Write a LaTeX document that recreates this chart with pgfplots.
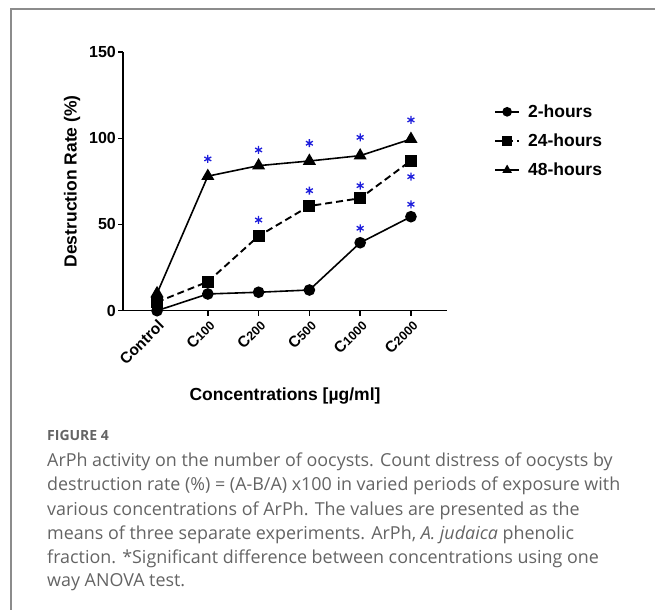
\documentclass[border=0pt]{standalone}
\usepackage{pgfplots}
\pgfplotsset{compat=1.18}
\usepackage{fontspec}
\setmainfont{Liberation Sans}
\newfontfamily\capfont{Open Sans}
\definecolor{starblue}{RGB}{30,30,220}
\definecolor{capgray}{RGB}{100,100,100}
\definecolor{framegray}{RGB}{140,140,140}
\newcommand{\sm}[1]{{\fontsize{12.5}{12.5}\selectfont #1}}
\begin{document}
\begin{tikzpicture}[x=1pt,y=1pt]
\useasboundingbox (0,0) rectangle (655,610);
\draw[framegray, line width=1.3pt] (655,601) -- (11,601) -- (11,0);
\begin{axis}[
  at={(123pt,299.3pt)}, anchor=south west,
  scale only axis, width=324pt, height=258.7pt,
  xmin=-0.67, xmax=5.71, ymin=0, ymax=150,
  axis lines*=left,
  axis line style={line width=1.4pt, -},
  tick align=outside, major tick length=5pt,
  tick style={line width=1.4pt, black},
  xtick={0,1,2,3,4,5},
  xticklabels={Control,{C\sm{100}},{C\sm{200}},{C\sm{500}},{C\sm{1000}},{C\sm{2000}}},
  ytick={0,50,100,150},
  /pgf/number format/assume math mode=true,
  yticklabel style={font=\fontsize{16}{16}\selectfont\bfseries, inner sep=2pt},
  xticklabel style={font=\fontsize{15.5}{15.5}\selectfont\bfseries, rotate=45, anchor=north east, inner sep=2pt},
  ylabel={Destruction Rate (\%)},
  ylabel style={at={(axis description cs:-0.157,0.5)}, anchor=center, font=\fontsize{17.5}{17.5}\selectfont\bfseries},
  xlabel={Concentrations [µg/ml]},
  xlabel style={at={(axis description cs:0.5,-0.33)}, anchor=center, font=\fontsize{17.5}{17.5}\selectfont\bfseries},
  clip=false,
  legend style={draw=none, fill=none, at={(axis description cs:1.145,0.656)}, anchor=west,
    font=\fontsize{17.5}{17.5}\selectfont\bfseries, row sep=11pt, inner sep=0pt,
    /tikz/every odd column/.append style={column sep=6pt}},
  legend image code/.code={\draw[mark repeat=2,mark phase=2,#1,mark size=4pt] plot coordinates {(0pt,0pt)(12pt,0pt)(24pt,0pt)};},
  legend cell align=left,
]
\addplot[black, line width=1.6pt, mark=*, mark size=5pt, mark options={solid}] coordinates {
 (0,0) (1,9.7) (2,10.7) (3,12) (4,39.4) (5,54.5)};
\addplot[black, line width=1.9pt, dash pattern=on 7pt off 4pt, mark=square*, mark size=5pt, mark options={solid}] coordinates {
 (0,5) (1,16.8) (2,43.3) (3,60.7) (4,65.2) (5,87)};
\addplot[black, line width=1.6pt, mark=triangle*, mark size=6pt, mark options={solid}] coordinates {
 (0,10) (1,78) (2,84.1) (3,86.8) (4,89.9) (5,99.5)};
\addplot[only marks, starblue, mark=asterisk, mark size=4pt, mark options={line width=1.3pt}, forget plot] coordinates {
 (1,88) (2,93.2) (2,52.6) (3,97.1) (3,69.6) (4,100.5) (4,72.5) (4,47.8) (5,110.6) (5,77.7) (5,61.7)};
\legend{2-hours,24-hours,48-hours}
\end{axis}
\begin{scope}[every node/.style={anchor=base west, inner sep=0pt, text=capgray, font=\capfont\fontsize{17.9}{17.9}\selectfont}]
\node[font=\capfont\fontsize{14}{14}\selectfont\bfseries] at (47,169) {FIGURE 4};
\node at (47,143.3) {ArPh activity on the number of oocysts. Count distress of oocysts by};
\node at (47,119.3) {destruction rate (\%) = (A-B/A) x100 in varied periods of exposure with};
\node at (47,95) {various concentrations of ArPh. The values are presented as the};
\node at (47,71) {means of three separate experiments. ArPh, \textit{A. judaica} phenolic};
\node at (47,47) {fraction. *Significant difference between concentrations using one};
\node at (47,23.3) {way ANOVA test.};
\end{scope}
\end{tikzpicture}
\end{document}
